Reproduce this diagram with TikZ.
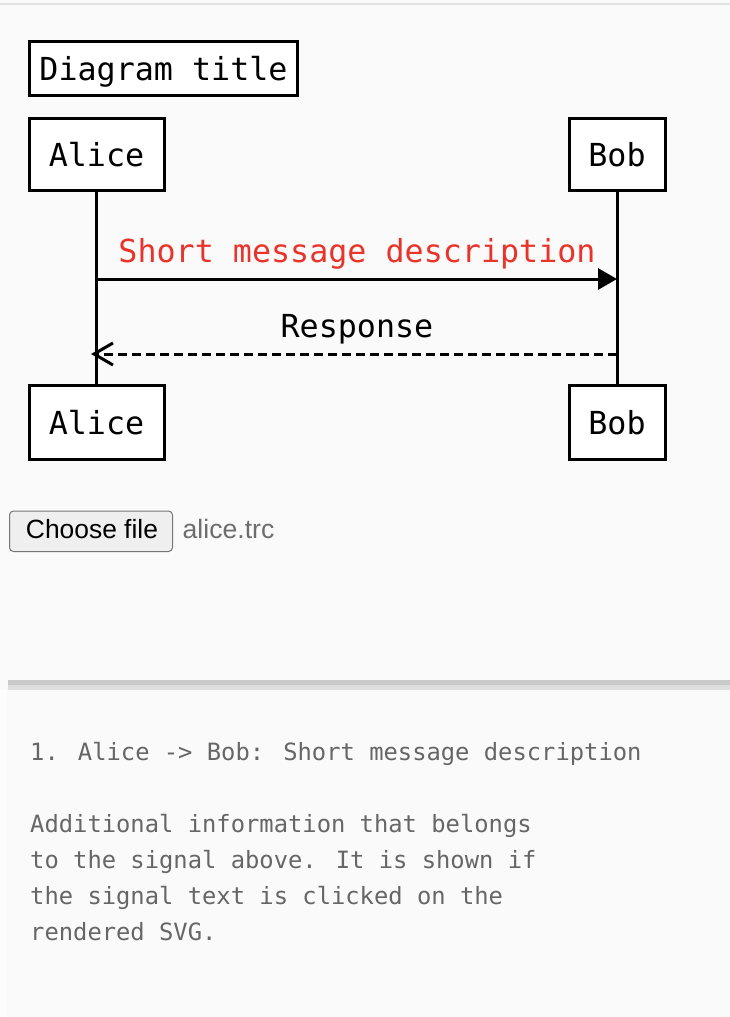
\documentclass[tikz,border=0pt]{standalone}
\usepackage{fontspec}
\usetikzlibrary{arrows.meta}
\newfontfamily\dmono{DejaVu Sans Mono}
\newfontfamily\lsans{Liberation Sans}
\definecolor{bgc}{HTML}{FAFAFA}
\definecolor{msgred}{HTML}{E8342B}
\definecolor{infogray}{HTML}{666666}
\definecolor{filegray}{HTML}{6D6D6D}
\definecolor{btnfill}{HTML}{EFEFEF}
\definecolor{btnborder}{HTML}{767676}
\definecolor{sepdark}{HTML}{CACACA}
\definecolor{seplight}{HTML}{DEDEDE}
\definecolor{topline}{HTML}{E2E2E2}
\tikzset{
  actor/.style={draw=black, line width=3pt, fill=white, inner sep=0pt,
    minimum height=72pt, text height=23pt, text depth=0pt,
    font=\dmono\fontsize{31.7}{37}\selectfont},
  titlebox/.style={draw=black, line width=3pt, fill=white, inner sep=0pt,
    minimum width=268pt, minimum height=54pt, text height=23pt, text depth=0pt,
    font=\dmono\fontsize{31.7}{37}\selectfont},
  lifeline/.style={line width=3pt, black},
  msglabel/.style={anchor=base, inner sep=0pt, font=\dmono\fontsize{31.7}{37}\selectfont},
  infotext/.style={anchor=base west, inner sep=0pt, text=infogray,
    font=\dmono\fontsize{23.8}{28}\selectfont},
}
\begin{document}
\begin{tikzpicture}[x=1pt,y=-1pt]
\useasboundingbox (0,0) rectangle (730,1017);
\fill[bgc] (0,0) rectangle (730,1017);
\fill[white!60!bgc] (0,690) rectangle (7,1017);
\draw[topline, line width=2pt] (0,3.5) -- (730,3.5);
\fill[sepdark] (8,680) rectangle (730,684.5);
\fill[seplight] (8,684.5) rectangle (730,690);

% title
\node[titlebox] (title) at (163.5,68.5) {Diagram title};

% actors
\node[actor, minimum width=135pt] (atop) at (96.5,154.5) {Alice};
\node[actor, minimum width=96pt] (btop) at (617,154.5) {Bob};
\node[actor, minimum width=135pt, minimum height=74pt] (abot) at (96.5,422.5) {Alice};
\node[actor, minimum width=96pt, minimum height=74pt] (bbot) at (617,422.5) {Bob};

% lifelines
\draw[lifeline] (atop.south) -- (abot.north);
\draw[lifeline] (btop.south) -- (bbot.north);

% messages
\coordinate (m1s) at (97,279);
\coordinate (m1e) at (617,279);
\draw[line width=3pt, -{Triangle[length=19pt,width=21pt]}] (m1s) -- (m1e);
\node[msglabel, text=msgred] (m1lab) at (357,262) {Short message description};

\coordinate (m2s) at (617,354);
\coordinate (m2e) at (91,354);
\draw[line width=3pt, dash pattern=on 9pt off 5pt,
  -{Straight Barb[length=19pt,width=22pt,line width=3pt]}] (m2s) -- (m2e);
\node[msglabel, text=black] (m2lab) at (357,337) {Response};

% file chooser
\draw[btnborder, fill=btnfill, line width=1pt, rounded corners=4pt] (9.5,511) rectangle (172.5,551.5);
\node[anchor=base, inner sep=0pt, font=\lsans\fontsize{26.4}{30}\selectfont] (btn) at (92,538) {Choose file};
\node[anchor=base west, inner sep=0pt, text=filegray, font=\lsans\fontsize{26.6}{30}\selectfont] (fname) at (182.5,538) {alice.trc};

% info text
\node[infotext] (sig) at (30,760) {1. Alice -> Bob: Short message description};
\node[infotext] (l1) at (30,832) {Additional information that belongs};
\node[infotext] (l2) at (30,868) {to the signal above. It is shown if};
\node[infotext] (l3) at (30,904) {the signal text is clicked on the};
\node[infotext] (l4) at (30,940) {rendered SVG.};
\end{tikzpicture}
\end{document}
